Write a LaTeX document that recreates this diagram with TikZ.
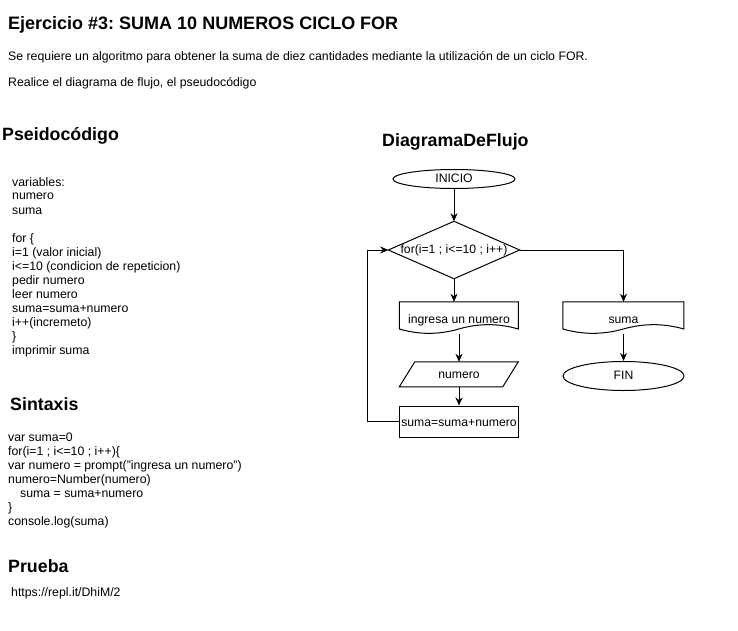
\documentclass[tikz,border=0pt]{standalone}
\usepackage{fontspec}
\setmainfont{Liberation Sans}
\usetikzlibrary{shapes.geometric,arrows.meta}
\frenchspacing
\newcommand\docpath[3]{%
  \draw[shapeline, shift={(#1.north west)}] (0,0) -- (#2,0) -- (#2,{0.85*#3})
    .. controls ({0.8333*#2},{0.67*#3}) and ({0.6667*#2},{0.67*#3}) .. ({0.5*#2},{0.85*#3})
    .. controls ({0.3333*#2},{1.03*#3}) and ({0.1667*#2},{1.03*#3}) .. (0,{0.85*#3}) -- cycle;}
\begin{document}
\begin{tikzpicture}[x=1pt,y=-1pt,
  txt/.style={anchor=base west, inner sep=0pt, font=\fontsize{12.3}{14}\selectfont},
  head/.style={anchor=base west, inner sep=0pt, font=\fontsize{17.8}{20}\selectfont\bfseries},
  shapeline/.style={draw=black, line width=1pt},
  flnode/.style={inner sep=0pt, text height=9pt, text depth=3pt, font=\fontsize{12.2}{14}\selectfont},
  ellnode/.style={flnode, shapeline, ellipse},
  arr/.style={line width=1pt, -{Stealth[length=8pt,width=7pt,inset=2.5pt]}}
]
\useasboundingbox[fill=white] (0,0) rectangle (738,631);
% header
\node[head, font=\fontsize{18}{20}\selectfont\bfseries] (title) at (8,30) {Ejercicio \#3: SUMA 10 NUMEROS CICLO FOR};
\node[txt] (req) at (8,61) {Se requiere un algoritmo para obtener la suma de diez cantidades mediante la utilización de un ciclo FOR.};
\node[txt] (real) at (8,87) {Realice el diagrama de flujo, el pseudocódigo};
% pseudocode
\node[head] (hps) at (2,141) {Pseidocódigo};
\node[txt] (p1) at (12,186) {variables:};
\node[txt] (p2) at (12,200) {numero};
\node[txt] (p3) at (12,214) {suma};
\node[txt] (p4) at (12,242) {for \{};
\node[txt] (p5) at (12,256) {i=1 (valor inicial)};
\node[txt] (p6) at (12,270) {i<=10 (condicion de repeticion)};
\node[txt] (p7) at (12,284) {pedir numero};
\node[txt] (p8) at (12,298) {leer numero};
\node[txt] (p9) at (12,312) {suma=suma+numero};
\node[txt] (p10) at (12,326) {i++(incremeto)};
\node[txt] (p11) at (12,340) {\}};
\node[txt] (p12) at (12,354) {imprimir suma};
% sintaxis
\node[head] (hsx) at (10,410) {Sintaxis};
\node[txt] (s1) at (8,441) {var suma=0};
\node[txt] (s2) at (8,455) {for(i=1 ; i<=10 ; i++)\{};
\node[txt] (s3) at (8,469) {var numero = prompt("ingresa un numero")};
\node[txt] (s4) at (8,483) {numero=Number(numero)};
\node[txt] (s5) at (20,497) {suma = suma+numero};
\node[txt] (s6) at (8,511) {\}};
\node[txt] (s7) at (8,525) {console.log(suma)};
% prueba
\node[head] (hpr) at (8,572) {Prueba};
\node[txt] (url) at (11,596) {https://repl.it/DhiM/2};
% flowchart
\node[head] (hdf) at (382,147) {DiagramaDeFlujo};
\node[ellnode, minimum width=122pt, minimum height=19pt] (ini) at (454,179) {\raisebox{-0.5pt}{INICIO}};
\node[flnode, minimum width=131pt, minimum height=57pt] (dia) at (454,250) {\raisebox{-0.5pt}{for(i=1 ; i<=10 ; i++)}};
\draw[shapeline] (dia.north) -- (dia.east) -- (dia.south) -- (dia.west) -- cycle;
\node[flnode, minimum width=119pt, minimum height=32pt] (ing) at (459,318) {\raisebox{-2pt}{ingresa un numero}};
\docpath{ing}{119}{32}
\node[flnode, minimum width=119pt, minimum height=25pt] (num) at (459,374.5) {\raisebox{-0.5pt}{numero}};
\draw[shapeline, shift={(num.north west)}] (15.5,0) -- (119,0) -- (103.5,25) -- (0,25) -- cycle;
\node[flnode, shapeline, minimum width=119pt, minimum height=31pt] (sum) at (459,421.5) {\raisebox{-1.5pt}{suma=suma+numero}};
\node[flnode, minimum width=121pt, minimum height=32pt] (sumd) at (623.5,318) {\raisebox{-2pt}{suma}};
\docpath{sumd}{121}{32}
\node[ellnode, minimum width=121pt, minimum height=29pt] (fin) at (623.5,376) {FIN};
% connectors
\draw[arr] (ini.south) -- (dia.north);
\draw[arr] (dia.south) -- (dia.south |- ing.north);
\draw[arr] (ing.south) -- (num.north);
\draw[arr] (num.south) -- (sum.north);
\draw[arr] (sum.west) -- ++(-32,0) |- (dia.west);
\draw[arr] (dia.east) -| (sumd.north);
\draw[arr] (sumd.south) -- (fin.north);
\end{tikzpicture}
\end{document}
